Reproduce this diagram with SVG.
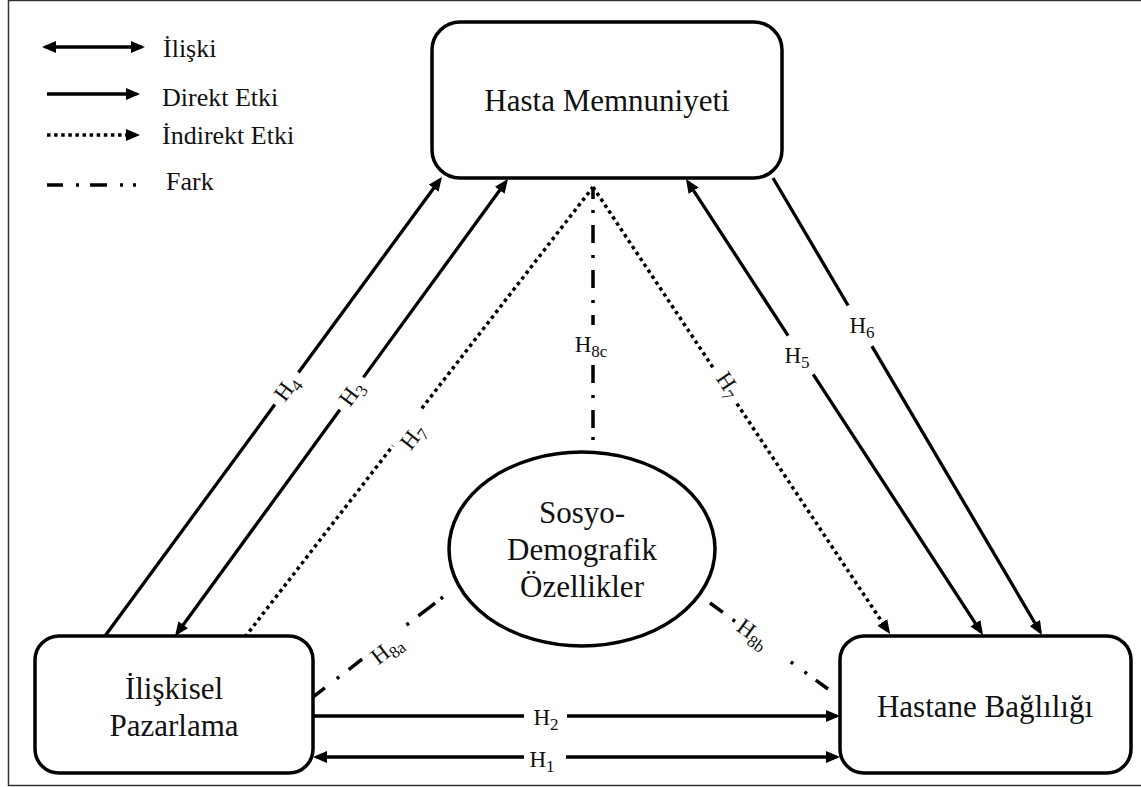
<svg xmlns="http://www.w3.org/2000/svg" width="1141" height="787" viewBox="0 0 1141 787">
<defs>
<style>
.node{fill:#fff;stroke:#000;stroke-width:3.5}
.t{font-family:"Liberation Serif","Times New Roman",serif;fill:#111}
.nt{font-size:31px;text-anchor:middle}
.lg{font-size:26px}
.lb{font-size:23px;text-anchor:middle}
.sub{font-size:17px}
.ln{fill:none;stroke:#000;stroke-width:3.3}
.dot{fill:none;stroke:#000;stroke-width:3.5;stroke-dasharray:3.5 3.6}
.dd{fill:none;stroke:#000;stroke-width:3.5}
</style>
<marker id="ah" markerUnits="userSpaceOnUse" markerWidth="14" markerHeight="12" refX="10.5" refY="6" orient="auto-start-reverse" viewBox="0 0 14 12">
<path d="M0,0 L14,6 L0,12 z" fill="#000"/>
</marker>
</defs>
<rect width="1141" height="787" fill="#fff"/>
<rect x="8.5" y="0.5" width="1140" height="785" fill="none" stroke="#333" stroke-width="1.5"/>

<g id="legend">
<path class="ln" d="M45.5,47 L141.5,47" marker-start="url(#ah)" marker-end="url(#ah)"/>
<text class="t lg" x="163" y="57">İlişki</text>
<path class="ln" d="M47,94 L136.5,94" marker-end="url(#ah)"/>
<text class="t lg" x="162" y="106">Direkt Etki</text>
<path class="dot" d="M47,135 L136.5,135" marker-end="url(#ah)"/>
<text class="t lg" x="162" y="144">İndirekt Etki</text>
<path class="dd" d="M47,185 L63,185 M76,185 L79,185 M90,185 L107,185 M120,185 L123,185 M133,185 L136,185"/>
<text class="t lg" x="166" y="190">Fark</text>
</g>

<g id="connectors">
<!-- H4 -->
<path class="ln" d="M105,636 L274.8,404.6 M298.5,372.4 L439.9,179.8" marker-end="url(#ah)"/>
<!-- H3 -->
<path class="ln" d="M177.1,633.2 L339.9,409.7 M363.4,377.4 L505.9,181.8" marker-start="url(#ah)" marker-end="url(#ah)"/>
<!-- H7 left -->
<path class="dot" d="M245,637 L393,445.6 M421.8,408.4 L593,187"/>
<!-- H7 right -->
<path class="dot" d="M593,187 L713.1,367.7 M736.9,403.6 L888.1,631.1" marker-end="url(#ah)"/>
<!-- H5 -->
<path class="ln" d="M687.9,181.9 L788.1,335.7 M813.2,374.3 L981.1,632.1" marker-start="url(#ah)" marker-end="url(#ah)"/>
<!-- H6 -->
<path class="ln" d="M773,178 L848.1,305.5 M871.9,346.1 L1040.2,632" marker-end="url(#ah)"/>
<!-- H8c -->
<path class="dd" d="M593,187 L593,199 M593,210 L593,213 M593,225 L593,243 M593,255 L593,258 M593,270 L593,288 M593,300 L593,303 M593,315 L593,325 M593,365 L593,383 M593,395 L593,398 M593,410 L593,428 M593,437 L593,440"/>
<!-- H8a -->
<path class="dd" d="M313,697 L324.9,687.9 M336.8,678.7 L339.2,676.9 M348.7,669.6 L362.1,659.2 M406.5,625 L408.9,623.2 M418.4,615.9 L435.1,603.1 M440.6,598.8 L443,597"/>
<!-- H8b -->
<path class="dd" d="M710,603 L722.9,612.4 M732.6,619.5 L735,621.3 M790.8,661.9 L793.2,663.7 M804.5,671.9 L807,673.7 M815.8,680.2 L828,689"/>
<!-- H2 -->
<path class="ln" d="M313,716 L524,716 M567,716 L836.5,716" marker-end="url(#ah)"/>
<!-- H1 -->
<path class="ln" d="M316.5,757 L524,757 M566,757 L836.5,757" marker-start="url(#ah)" marker-end="url(#ah)"/>

<g id="labels">
<text class="t lb" transform="translate(286.7,388.5) rotate(-53.7)" y="7">H<tspan class="sub" dy="5">4</tspan></text>
<text class="t lb" transform="translate(351.7,393.5) rotate(-53.9)" y="7">H<tspan class="sub" dy="5">3</tspan></text>
<text class="t lb" transform="translate(413,437) rotate(-52.3)" y="7">H<tspan class="sub" dy="5">7</tspan></text>
<text class="t lb" transform="translate(728,385) rotate(56)" y="7">H<tspan class="sub" dy="5">7</tspan></text>
<text class="t lb" x="797" y="363">H<tspan class="sub" dy="5">5</tspan></text>
<text class="t lb" x="862" y="333">H<tspan class="sub" dy="5">6</tspan></text>
<text class="t lb" x="591" y="352">H<tspan class="sub" dy="5">8c</tspan></text>
<text class="t lb" transform="translate(387,650) rotate(-37.6)" y="7">H<tspan class="sub" dy="5">8a</tspan></text>
<text class="t lb" transform="translate(753,634) rotate(36)" y="7">H<tspan class="sub" dy="5">8b</tspan></text>
<text class="t lb" x="546" y="725">H<tspan class="sub" dy="5">2</tspan></text>
<text class="t lb" x="542" y="767">H<tspan class="sub" dy="5">1</tspan></text>
</g>
</g>

<g id="hasta-memnuniyeti">
<rect class="node" x="432" y="22" width="350" height="156" rx="28"/>
<text class="t nt" x="607" y="111">Hasta Memnuniyeti</text>
</g>
<g id="iliskisel-pazarlama">
<rect class="node" x="35" y="636" width="278" height="137" rx="24"/>
<text class="t nt" x="174" y="699">İlişkisel</text>
<text class="t nt" x="174" y="736">Pazarlama</text>
</g>
<g id="hastane-bagliligi">
<rect class="node" x="840" y="636" width="291" height="137" rx="24"/>
<text class="t nt" x="985" y="717">Hastane Bağlılığı</text>
</g>
<g id="sosyo-demografik">
<ellipse class="node" cx="582" cy="549" rx="133" ry="97"/>
<text class="t nt" x="582" y="523">Sosyo-</text>
<text class="t nt" x="582" y="560">Demografik</text>
<text class="t nt" x="582" y="597">Özellikler</text>
</g>
</svg>
